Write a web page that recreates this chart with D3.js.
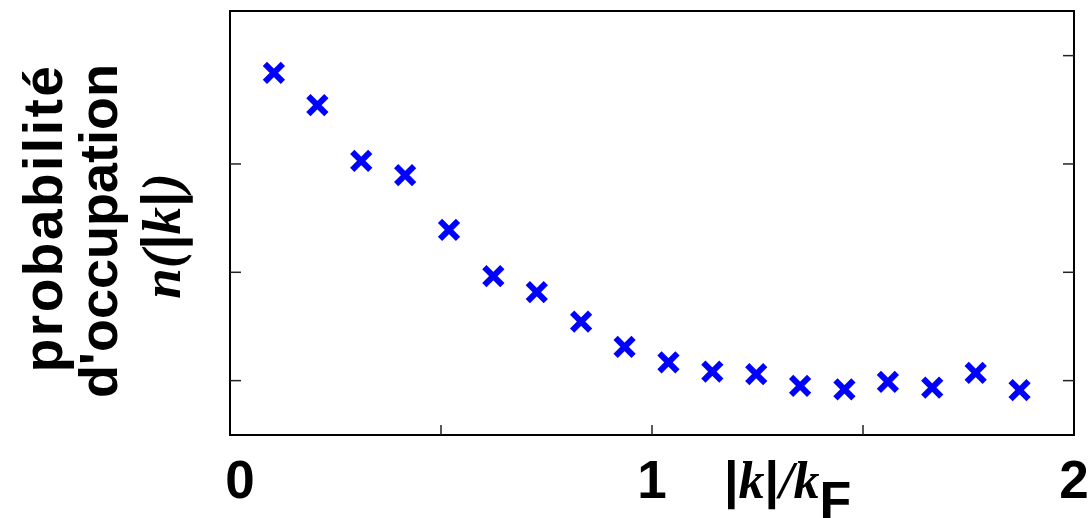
<!DOCTYPE html>
<html><head><meta charset="utf-8">
<script src="https://cdn.jsdelivr.net/npm/d3@7"></script>
<style>body{margin:0;background:#fff}svg{display:block}</style>
</head><body>
<svg id="chart" width="1090" height="518"></svg>
<script>
const xValues = [0.104,0.207,0.311,0.415,0.519,0.624,0.727,0.832,0.935,1.039,1.143,1.247,1.351,1.456,1.559,1.664,1.767,1.871];
const yValues = [0.710,0.636,0.507,0.474,0.348,0.241,0.204,0.136,0.078,0.042,0.021,0.015,-0.012,-0.020,-0.003,-0.016,0.018,-0.022];
const xTickValues = [0.5,1,1.5];
const xTickLabels = [{v:0,t:"0"},{v:1,t:"1"},{v:2,t:"2"}];
const yTickValues = [0,0.25,0.5,0.75];
const yTickLeft = [0,0.25,0.5];

const svg = d3.select("#chart");
const L=230, R=1074, T=11, B=435;
const x = d3.scaleLinear().domain([0,2]).range([L,R]);
const y = d3.scaleLinear().domain([-0.1255,0.853]).range([B,T]);

const SANS="Liberation Sans, Arial, sans-serif", SERIF="Liberation Serif, Times New Roman, serif";

// frame
svg.append("rect").attr("x",L).attr("y",T).attr("width",R-L).attr("height",B-T)
  .attr("fill","none").attr("stroke","#000").attr("stroke-width",2);

// ticks
const tickCol="#222";
svg.append("g").selectAll("line").data(xTickValues).join("line")
  .attr("x1",d=>x(d)).attr("x2",d=>x(d)).attr("y1",B).attr("y2",B-10)
  .attr("stroke",tickCol).attr("stroke-width",1.5);
svg.append("g").selectAll("line").data(yTickLeft).join("line")
  .attr("x1",L).attr("x2",L+11).attr("y1",d=>y(d)).attr("y2",d=>y(d))
  .attr("stroke",tickCol).attr("stroke-width",1.5);
svg.append("g").selectAll("line").data(yTickValues).join("line")
  .attr("x1",R).attr("x2",R-11).attr("y1",d=>y(d)).attr("y2",d=>y(d))
  .attr("stroke",tickCol).attr("stroke-width",1.5);

// tick labels
svg.append("g").selectAll("text").data(xTickLabels).join("text")
  .attr("x",d=>x(d.v)+(d.v===0?10:0)).attr("y",498)
  .attr("text-anchor","middle")
  .attr("font-family",SANS).attr("font-weight","bold")
  .attr("font-size",53).text(d=>d.t);

// points (x markers)
const s=9;
svg.append("g").selectAll("path").data(xValues.map((v,i)=>[v,yValues[i]])).join("path")
  .attr("d",d=>{const cx=x(d[0]),cy=y(d[1]);return `M${cx-s},${cy-s}L${cx+s},${cy+s}M${cx-s},${cy+s}L${cx+s},${cy-s}`;})
  .attr("stroke","#0000ff").attr("stroke-width",6).attr("fill","none");

// x label
const xl = svg.append("text").attr("x",724).attr("y",498)
  .attr("font-size",52).attr("font-family",SERIF).attr("font-weight","bold");
xl.append("tspan").attr("font-family",SANS).text("|");
xl.append("tspan").attr("font-style","italic").text("k");
xl.append("tspan").attr("font-family",SANS).text("|");
xl.append("tspan").attr("font-style","italic").text("/k");
xl.append("tspan").attr("font-family",SANS)
  .attr("dy",20).text("F");

// y label
const yl = svg.append("g").attr("transform","translate(0,222) rotate(-90)");
yl.append("text").attr("x",4).attr("y",62).attr("text-anchor","middle")
  .attr("font-family",SANS).attr("font-weight","bold").attr("letter-spacing",2.5)
  .attr("font-size",55).text("probabilité");
yl.append("text").attr("x",-9).attr("y",117).attr("text-anchor","middle")
  .attr("font-family",SANS).attr("font-weight","bold")
  .attr("font-size",54).text("d'occupation");
const nl = yl.append("text").attr("x",-14).attr("y",180).attr("text-anchor","middle")
  .attr("font-family",SERIF).attr("font-weight","bold").attr("font-size",55);
nl.append("tspan").attr("font-style","italic").text("n");
nl.append("tspan").attr("font-style","italic").text("(");
nl.append("tspan").attr("font-family",SANS).text("|");
nl.append("tspan").attr("font-style","italic").text("k");
nl.append("tspan").attr("font-family",SANS).text("|");
nl.append("tspan").attr("font-style","italic").text(")");
</script>
</body></html>
